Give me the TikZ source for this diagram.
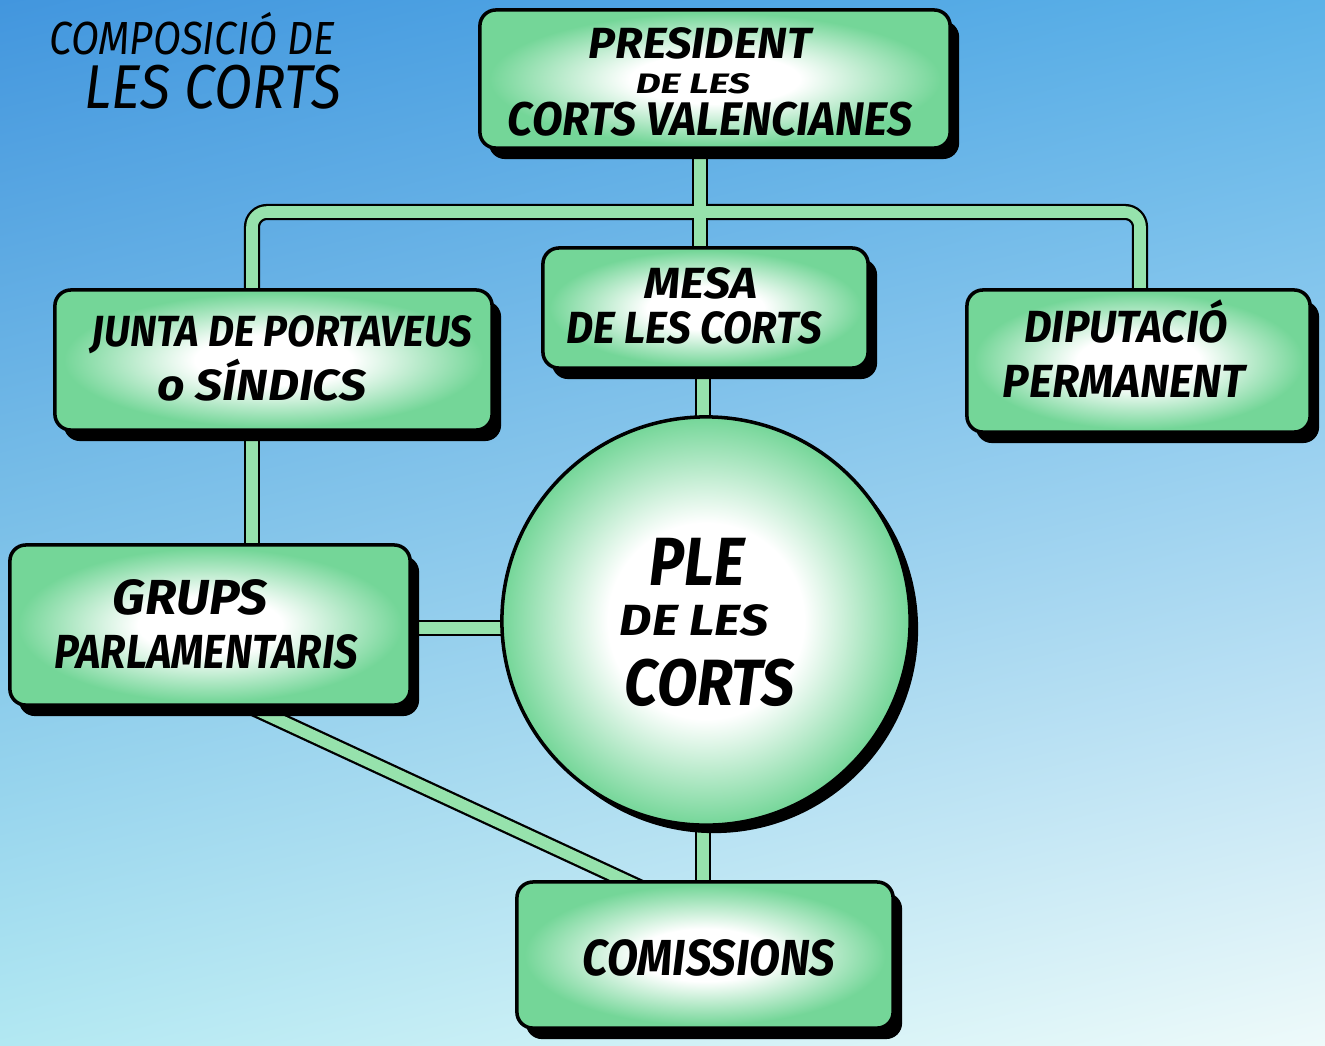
\documentclass[tikz,border=0pt]{standalone}
\usepackage{fontspec}
\setmainfont{Fira Sans}
\usepackage{graphicx}
\usetikzlibrary{shadings}
\definecolor{bgTL}{RGB}{66,150,222}
\definecolor{bgTR}{RGB}{92,178,232}
\definecolor{bgBL}{RGB}{178,232,242}
\definecolor{bgBR}{RGB}{238,250,250}
\definecolor{boxgreen}{RGB}{116,214,152}
\definecolor{conngreen}{RGB}{150,226,172}
\pgfdeclareradialshading{boxglow}{\pgfpoint{0bp}{0bp}}{color(0bp)=(white); color(9bp)=(white); color(24bp)=(boxgreen); color(50bp)=(boxgreen)}
\pgfdeclareradialshading{circglow}{\pgfpoint{0bp}{0bp}}{color(0bp)=(white); color(12bp)=(white); color(25bp)=(boxgreen); color(50bp)=(boxgreen)}
\newcommand\fitx[3]{\resizebox{#1}{\height}{\fontsize{#2}{#2}\selectfont #3}}
\begin{document}
\begin{tikzpicture}[x=0.01cm,y=-0.01cm,
  box/.style={rectangle, draw=black, line width=1pt, rounded corners=0.16cm, shade, shading=boxglow, inner sep=0pt,
    preaction={fill=black, transform canvas={shift={(0.09cm,-0.11cm)}}}},
  circ/.style={circle, draw=black, line width=1pt, shade, shading=circglow, inner sep=0pt,
    preaction={fill=black, transform canvas={shift={(0.08cm,-0.08cm)}}}},
  connout/.style={draw=black, line width=4.6pt, rounded corners=0.15cm},
  connin/.style={draw=conngreen, line width=3.3pt, rounded corners=0.15cm},
  lbl/.style={inner sep=0pt, anchor=base, font=\bfseries\itshape},
  ttl/.style={inner sep=0pt, anchor=base, font=\itshape}]
\useasboundingbox (0,0) rectangle (1325,1045);
\shade[upper left=bgTL, upper right=bgTR, lower left=bgBL, lower right=bgBR] (0,0) rectangle (1325,1045);

% geometry for box positions (boxes drawn after the connectors)
\path (715,79) node[minimum width=4.70cm, minimum height=1.38cm, inner sep=0pt] (pres) {};
\path (705.5,308) node[minimum width=3.25cm, minimum height=1.20cm, inner sep=0pt] (mesa) {};
\path (273.5,360) node[minimum width=4.37cm, minimum height=1.40cm, inner sep=0pt] (junta) {};
\path (1138.5,361) node[minimum width=3.43cm, minimum height=1.42cm, inner sep=0pt] (dip) {};
\path (210,625) node[minimum width=4.00cm, minimum height=1.60cm, inner sep=0pt] (grups) {};
\path (705,955) node[minimum width=3.76cm, minimum height=1.46cm, inner sep=0pt] (com) {};
\path (706,621) node[circle, minimum size=4.08cm, inner sep=0pt] (ple) {};

\coordinate (hb) at (0,212);
\coordinate (xj) at (252,0);
\coordinate (xd) at (1140,0);
\coordinate (xp) at (700,0);
\coordinate (xc) at (703,0);
\coordinate (yg) at (0,628);
\coordinate (d1) at (225,695);
\coordinate (d2) at (650,892);

\foreach \st in {connout,connin}{
  \draw[\st] (xj |- junta.north) -- (xj |- hb) -- (xd |- hb) -- (xd |- dip.north);
  \draw[\st] (xp |- pres.south) -- (xp |- mesa.north);
  \draw[\st] (xc |- mesa.south) -- (xc |- ple.center);
  \draw[\st] (xc |- ple.center) -- (xc |- com.north);
  \draw[\st] (xj |- junta.south) -- (xj |- grups.north);
  \draw[\st] (grups.east |- yg) -- (ple.center |- yg);
  \draw[\st] (d1) -- (d2);
}

\node[box, minimum width=4.70cm, minimum height=1.38cm] (presB) at (pres) {};
\node[box, minimum width=3.25cm, minimum height=1.20cm] (mesaB) at (mesa) {};
\node[box, minimum width=4.37cm, minimum height=1.40cm] (juntaB) at (junta) {};
\node[box, minimum width=3.43cm, minimum height=1.42cm] (dipB) at (dip) {};
\node[box, minimum width=4.00cm, minimum height=1.60cm] (grupsB) at (grups) {};
\node[box, minimum width=3.76cm, minimum height=1.46cm] (comB) at (com) {};
\node[circ, minimum size=4.08cm] (pleB) at (ple) {};

% texts
\node[ttl] (t0a) at (192,54) {\fitx{2.85cm}{13.2}{COMPOSICIÓ DE}};
\node[ttl] (t0b) at (213,108) {\fitx{2.57cm}{17.6}{LES CORTS}};

\node[lbl] (t1a) at (700,58) {\fitx{2.22cm}{12.4}{PRESIDENT}};
\node[lbl] (t1b) at (693,93) {\fitx{1.14cm}{8.0}{DE LES}};
\node[lbl] (t1c) at (710,135) {\fitx{4.04cm}{13.4}{CORTS VALENCIANES}};

\node[lbl] (t2a) at (701,298) {\fitx{1.12cm}{12.4}{MESA}};
\node[lbl] (t2b) at (694,343) {\fitx{2.55cm}{12.8}{DE LES CORTS}};

\node[lbl] (t3a) at (282,346) {\fitx{3.80cm}{12.4}{JUNTA DE PORTAVEUS}};
\node[lbl] (t3b) at (262,400) {\fitx{2.09cm}{12.4}{o SÍNDICS}};

\node[lbl] (t4a) at (1126,342) {\fitx{2.03cm}{12.8}{DIPUTACIÓ}};
\node[lbl] (t4b) at (1124,397) {\fitx{2.42cm}{13.2}{PERMANENT}};

\node[lbl] (t5a) at (190,614) {\fitx{1.55cm}{14}{GRUPS}};
\node[lbl] (t5b) at (206,668) {\fitx{3.03cm}{13.6}{PARLAMENTARIS}};

\node[lbl] (t6a) at (697,585) {\fitx{0.95cm}{19.4}{PLE}};
\node[lbl] (t6b) at (694,635) {\fitx{1.48cm}{12.4}{DE LES}};
\node[lbl] (t6c) at (710,705) {\fitx{1.70cm}{18.6}{CORTS}};

\node[lbl] (t7) at (709,975) {\fitx{2.52cm}{14.4}{COMISSIONS}};
\end{tikzpicture}
\end{document}
